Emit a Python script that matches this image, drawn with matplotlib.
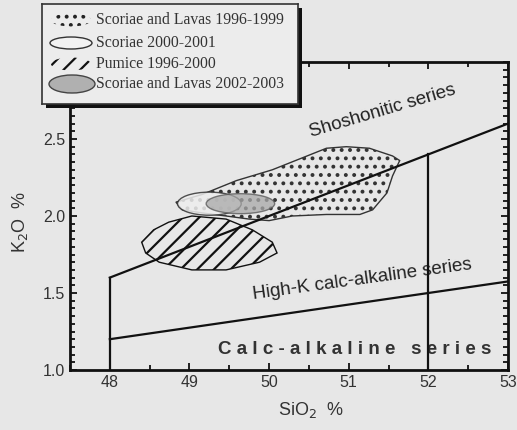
import matplotlib
matplotlib.use('Agg')
import matplotlib.pyplot as plt
from matplotlib.patches import Polygon, Ellipse, Rectangle

plt.rcParams['font.family'] = ['Liberation Sans', 'DejaVu Sans']
plt.rcParams['hatch.linewidth'] = 1.6

# series boundaries (Peccerillo & Taylor style)
upper_x = [48, 52, 53]
upper_y = [1.6, 2.4, 2.6]
lower_x = [48, 52, 53]
lower_y = [1.2, 1.5, 1.575]
div_48 = [1.0, 1.6]
div_52 = [1.0, 2.4]

# Scoriae and Lavas 1996-1999 (dotted field)
dots_x = [48.83, 49.16, 49.59, 50.04, 50.38, 50.72, 50.97, 51.26, 51.55, 51.64,
          51.55, 51.48, 51.30, 51.14, 50.72, 50.29, 50.00, 49.75, 49.46, 49.16, 48.91]
dots_y = [2.09, 2.14, 2.23, 2.30, 2.37, 2.44, 2.45, 2.44, 2.39, 2.36,
          2.26, 2.15, 2.04, 2.01, 2.01, 2.00, 1.97, 1.98, 2.00, 2.02, 2.04]

# Pumice 1996-2000 (hatched field)
pum_x = [48.40, 48.55, 48.74, 49.03, 49.46, 49.79, 50.04, 50.10, 49.88, 49.46, 49.03, 48.62, 48.45]
pum_y = [1.83, 1.91, 1.96, 2.00, 1.98, 1.91, 1.83, 1.76, 1.70, 1.65, 1.65, 1.70, 1.76]

# Scoriae 2000-2001 (open ellipse) and Scoriae and Lavas 2002-2003 (grey ellipse)
sc_center, sc_w, sc_h = (49.25, 2.08), 0.80, 0.15
gr_center, gr_w, gr_h = (49.64, 2.08), 0.86, 0.13

legend_labels = ['Scoriae and Lavas 1996-1999', 'Scoriae 2000-2001',
                 'Pumice 1996-2000', 'Scoriae and Lavas 2002-2003']

bg = '#e7e7e7'
fig = plt.figure(figsize=(5.17, 4.30), dpi=100, facecolor=bg)
ax = fig.add_axes([70/517, 60/430, 438/517, 308/430], facecolor=bg)

ax.add_patch(Polygon(list(zip(dots_x, dots_y)), closed=True, facecolor=bg,
                     edgecolor='#333', hatch='..', lw=1.0, zorder=2))
ax.add_patch(Polygon(list(zip(pum_x, pum_y)), closed=True, facecolor=bg,
                     edgecolor='#111', hatch='//', lw=1.0, zorder=2))
ax.add_patch(Ellipse(sc_center, sc_w, sc_h, facecolor='#eeeeee', edgecolor='#333',
                     lw=1.0, alpha=0.85, zorder=3))
ax.add_patch(Ellipse(gr_center, gr_w, gr_h, facecolor='#a9a9a9', edgecolor='#555',
                     lw=1.0, alpha=0.75, zorder=4))

ax.plot(upper_x, upper_y, color='#111', lw=1.6, zorder=5)
ax.plot(lower_x, lower_y, color='#111', lw=1.6, zorder=5)
ax.plot([48, 48], div_48, color='#111', lw=1.6, zorder=5)
ax.plot([52, 52], div_52, color='#111', lw=1.6, zorder=5)

ax.text(51.42, 2.68, 'Shoshonitic series', rotation=16.5, ha='center', va='center',
        fontsize=13.5, color='#222')
ax.text(51.17, 1.59, 'High-K calc-alkaline series', rotation=7.8, ha='center',
        va='center', fontsize=13.5, color='#222')
ax.text(51.08, 1.13, ' '.join('Calc-alkaline') + '   ' + ' '.join('series'),
        ha='center', va='center', fontsize=13.5, fontweight='bold', color='#333')

ax.set_xlim(47.5, 53)
ax.set_ylim(1.0, 3.0)
ax.set_xticks([48, 49, 50, 51, 52, 53])
ax.set_xticks([47.5, 48.5, 49.5, 50.5, 51.5, 52.5], minor=True)
ax.set_yticks([1.0, 1.5, 2.0, 2.5])
ax.set_yticks([1.0 + 0.05 * i for i in range(41)], minor=True)
ax.set_yticklabels(['1.0', '1.5', '2.0', '2.5'])
ax.tick_params(which='both', direction='in', top=True, right=True, color='#111',
               labelsize=11.5, labelcolor='#333', width=1.3)
ax.tick_params(which='major', length=5)
ax.tick_params(which='minor', length=3.5)
for s in ax.spines.values():
    s.set_linewidth(2.0)
    s.set_color('#111')
ax.set_xlabel('SiO$_2$  %', fontsize=13, color='#333', labelpad=7, x=0.55)
ax.set_ylabel('K$_2$O  %', fontsize=13, color='#333', labelpad=9, y=0.48)

# legend box drawn by hand (pixel coordinates inside the box)
lx, ly, lw_, lh = 42, 4, 256, 100
fig.patches.append(Rectangle(((lx + 4) / 517, 1 - (ly + lh + 4) / 430), lw_ / 517, lh / 430,
                             transform=fig.transFigure, facecolor='#111', edgecolor='none',
                             zorder=9))
lax = fig.add_axes([lx / 517, 1 - (ly + lh) / 430, lw_ / 517, lh / 430], zorder=10,
                   facecolor='#ececec')
lax.set_xlim(0, lw_)
lax.set_ylim(lh, 0)
lax.set_xticks([])
lax.set_yticks([])
for s in lax.spines.values():
    s.set_linewidth(1.2)
    s.set_color('#333')

rows = [16, 39, 60, 80]
lax.add_patch(Ellipse((29, rows[0]), 40, 13, facecolor='none', edgecolor='#222',
                      lw=0, hatch='..'))
lax.add_patch(Ellipse((29, rows[1]), 42, 12, facecolor='#f2f2f2', edgecolor='#333', lw=1.0))
lax.add_patch(Ellipse((29, rows[2]), 40, 13, facecolor='none', edgecolor='#111',
                      lw=0, hatch='//'))
lax.add_patch(Ellipse((30, rows[3]), 46, 18, facecolor='#b0b0b0', edgecolor='#444', lw=1.0))
for r, lab in zip(rows, legend_labels):
    lax.text(54, r, lab, va='center', ha='left', fontsize=11.3, color='#333',
             family=['Liberation Serif', 'DejaVu Serif'])

fig.savefig('out.png', dpi=100, facecolor=bg)
